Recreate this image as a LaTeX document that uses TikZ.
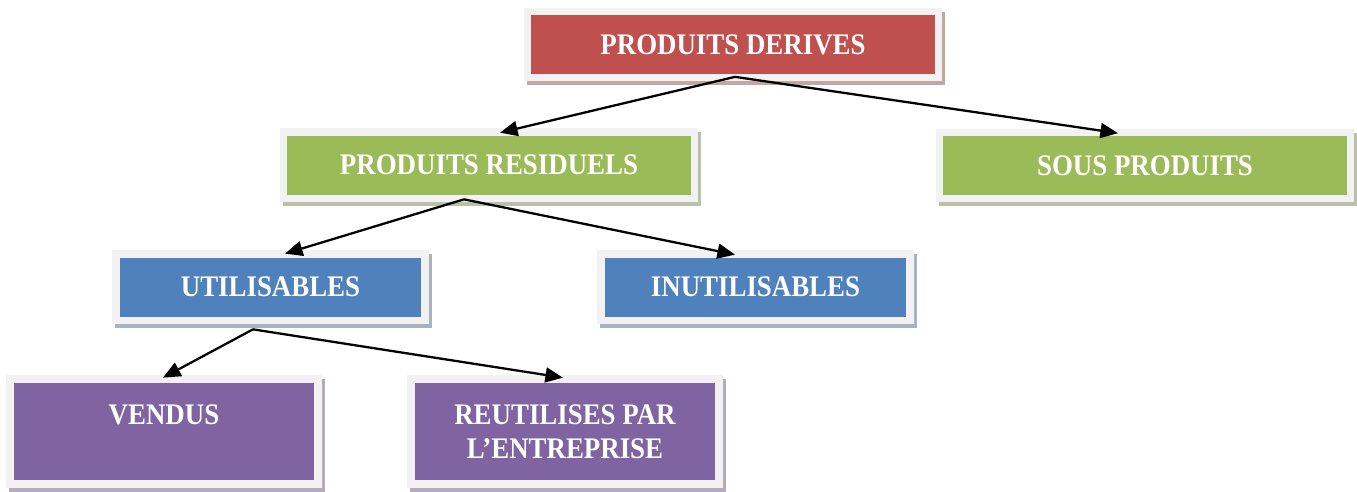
\documentclass[tikz,border=0pt]{standalone}
\usepackage{fontspec}
\newfontfamily\boxfont{Liberation Serif}[FakeStretch=0.9]
\usetikzlibrary{shadows}
\usetikzlibrary{arrows.meta}
\usepackage{xcolor}

\definecolor{framegray}{HTML}{F2F2F2}
\definecolor{redbox}{HTML}{C0504D}
\definecolor{greenbox}{HTML}{9BBB59}
\definecolor{bluebox}{HTML}{4F81BD}
\definecolor{purplebox}{HTML}{8064A2}

\begin{document}
\begin{tikzpicture}[x=0.02cm,y=-0.02cm,
  box/.style={fill=framegray, inner sep=0pt, text=white, align=center,
    font=\boxfont\bfseries\fontsize{17}{19.5}\selectfont,
    path picture={\fill[#1] ([shift={(0.15cm,-0.15cm)}]path picture bounding box.north west)
      rectangle ([shift={(-0.15cm,0.15cm)}]path picture bounding box.south east);},
    drop shadow={shadow xshift=0.06cm, shadow yshift=-0.08cm, fill=#1!40!gray!60, opacity=1}}]
\tikzstyle{wide} = [minimum width=8.37cm, minimum height=1.48cm]
\tikzstyle{mid} = [minimum width=6.34cm, minimum height=1.48cm]
\tikzstyle{tall} = [minimum width=6.32cm, minimum height=2.26cm]
\tikzstyle{edge} = [draw=black, line width=1.3pt, -{Triangle[length=10pt,width=8.5pt]}]

\useasboundingbox (0,0) rectangle (1357,491);

\node[box=redbox, wide] (pd) at (733,44.5) {PRODUITS DERIVES};
\node[box=greenbox, wide] (pr) at (489,165) {PRODUITS RESIDUELS};
\node[box=greenbox, wide] (sp) at (1145,165.5) {SOUS PRODUITS};
\node[box=bluebox, mid] (ut) at (270.5,287) {UTILISABLES};
\node[box=bluebox, mid] (inut) at (755.5,287) {INUTILISABLES};
\node[box=purplebox, tall] (vd) at (164,431.5) {VENDUS\\\mbox{}};
\node[box=purplebox, tall] (re) at (565,431.5) {REUTILISES PAR\\L’ENTREPRISE};

\draw[edge] ([xshift=0.04cm,yshift=0.1cm]pd.south) to ([xshift=0.22cm,yshift=-0.1cm]pr.north);
\draw[edge] ([xshift=0.04cm,yshift=0.1cm]pd.south) to ([xshift=-0.54cm,yshift=-0.1cm]sp.north);
\draw[edge] ([xshift=-0.5cm,yshift=0.06cm]pr.south) to ([xshift=0.29cm,yshift=-0.08cm]ut.north);
\draw[edge] ([xshift=-0.5cm,yshift=0.06cm]pr.south) to ([xshift=-0.41cm,yshift=-0.1cm]inut.north);
\draw[edge] ([xshift=-0.35cm,yshift=-0.1cm]ut.south) to ([xshift=-0.02cm,yshift=-0.06cm]vd.north);
\draw[edge] ([xshift=-0.35cm,yshift=-0.1cm]ut.south) to ([xshift=-0.04cm,yshift=-0.06cm]re.north);
\end{tikzpicture}
\end{document}
